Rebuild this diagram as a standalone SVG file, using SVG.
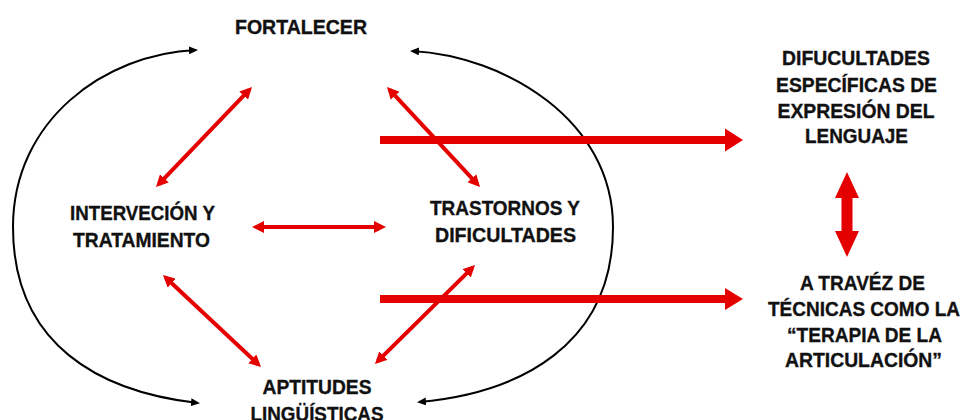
<svg xmlns="http://www.w3.org/2000/svg" width="963" height="420" viewBox="0 0 963 420">
<style>
text{font-family:"Liberation Sans",Arial,sans-serif;font-weight:bold;font-size:20.5px;fill:#111;stroke:#111;stroke-width:0.35;text-anchor:middle}
.arc{fill:none;stroke:#000;stroke-width:2}
.thin{fill:none;stroke:#e50000;stroke-width:4}
.big{fill:#e50000}
</style>
<defs>
<marker id="bk" viewBox="0 0 9 8" markerUnits="userSpaceOnUse" markerWidth="9" markerHeight="8" refX="7" refY="4" orient="auto-start-reverse"><path d="M0,0 L9,4 L0,8 z" fill="#000"/></marker>
<marker id="rd" viewBox="0 0 12 12" markerUnits="userSpaceOnUse" markerWidth="12" markerHeight="12" refX="8" refY="6" orient="auto-start-reverse"><path d="M0,0 L12,6 L0,12 z" fill="#e50000"/></marker>
</defs>
<g id="connectors">
<path class="arc" d="M196 50 C105 54 13 120 13 227 C13 345 100 392 198 403" marker-start="url(#bk)" marker-end="url(#bk)"/>
<path class="arc" d="M412 51 C505 56 613 120 613 227 C613 345 520 393 419 402" marker-start="url(#bk)" marker-end="url(#bk)"/>
<line class="thin" x1="249.2" y1="89.9" x2="158.8" y2="184.1" marker-start="url(#rd)" marker-end="url(#rd)"/>
<line class="thin" x1="389.7" y1="89.9" x2="477.3" y2="184.1" marker-start="url(#rd)" marker-end="url(#rd)"/>
<line class="thin" x1="256" y1="227" x2="382" y2="227" marker-start="url(#rd)" marker-end="url(#rd)"/>
<line class="thin" x1="165.9" y1="277.7" x2="258.1" y2="364.3" marker-start="url(#rd)" marker-end="url(#rd)"/>
<line class="thin" x1="472.2" y1="267.8" x2="377.8" y2="361.2" marker-start="url(#rd)" marker-end="url(#rd)"/>
<polygon class="big" points="380,136 725,136 725,128.5 743,140 725,151.5 725,144 380,144"/>
<polygon class="big" points="380,295 725,295 725,288 743,299 725,310 725,303 380,303"/>
<polygon class="big" points="847,172 859,198 852.5,198 852.5,231 859,231 847,257 835,231 841.5,231 841.5,198 835,198"/>
</g>
<g id="fortalecer"><text x="301" y="34" textLength="132" lengthAdjust="spacingAndGlyphs">FORTALECER</text></g>
<g id="intervencion"><text x="142.5" y="220" textLength="145" lengthAdjust="spacingAndGlyphs">INTERVECIÓN Y</text><text x="141.5" y="247" textLength="137" lengthAdjust="spacingAndGlyphs">TRATAMIENTO</text></g>
<g id="trastornos"><text x="505" y="215" textLength="150" lengthAdjust="spacingAndGlyphs">TRASTORNOS Y</text><text x="505.5" y="242" textLength="141" lengthAdjust="spacingAndGlyphs">DIFICULTADES</text></g>
<g id="aptitudes"><text x="317" y="394" textLength="109" lengthAdjust="spacingAndGlyphs">APTITUDES</text><text x="317" y="421" textLength="133" lengthAdjust="spacingAndGlyphs">LINGÜÍSTICAS</text></g>
<g id="dificultades"><text x="856" y="65" textLength="148" lengthAdjust="spacingAndGlyphs">DIFUCULTADES</text><text x="856.5" y="91.5" textLength="161" lengthAdjust="spacingAndGlyphs">ESPECÍFICAS DE</text><text x="856" y="117.5" textLength="157" lengthAdjust="spacingAndGlyphs">EXPRESIÓN DEL</text><text x="856.5" y="143" textLength="103" lengthAdjust="spacingAndGlyphs">LENGUAJE</text></g>
<g id="tecnicas"><text x="862.5" y="290" textLength="125" lengthAdjust="spacingAndGlyphs">A TRAVÉZ DE</text><text x="864" y="316" textLength="192" lengthAdjust="spacingAndGlyphs">TÉCNICAS COMO LA</text><text x="864.5" y="341.5" textLength="155" lengthAdjust="spacingAndGlyphs">“TERAPIA DE LA</text><text x="863.5" y="367" textLength="157" lengthAdjust="spacingAndGlyphs">ARTICULACIÓN”</text></g>
</svg>
